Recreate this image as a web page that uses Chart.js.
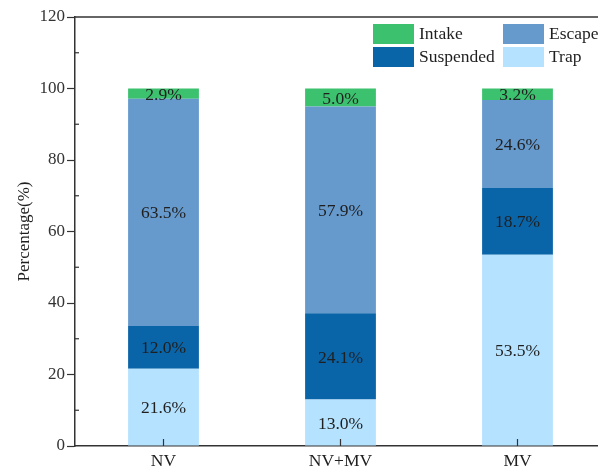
<!DOCTYPE html>
<html>
<head>
<meta charset="utf-8">
<script src="https://cdn.jsdelivr.net/npm/chart.js@4.4.1/dist/chart.umd.min.js"></script>
<style>
html,body{margin:0;padding:0;background:#fff;overflow:hidden;}
#wrap{width:610px;height:470px;}
</style>
</head>
<body>
<div id="wrap"><canvas id="c" width="610" height="470"></canvas></div>
<script>
const categories = ['NV', 'NV+MV', 'MV'];
const trap = [21.6, 13.0, 53.5];
const suspended = [12.0, 24.1, 18.7];
const escape = [63.5, 57.9, 24.6];
const intake = [2.9, 5.0, 3.2];
const yTicks = [0, 20, 40, 60, 80, 100, 120];

const FONT = "'Liberation Serif', 'Times New Roman', serif";
const colors = {Intake:'#3CC16F', Escape:'#6699CC', Suspended:'#0A64A8', Trap:'#B5E2FF'};

const labelPlugin = {
  id:'segLabels',
  afterDatasetsDraw(chart){
    const ctx = chart.ctx;
    ctx.save();
    ctx.font = '17.5px ' + FONT;
    ctx.fillStyle = '#1f1f1f';
    ctx.textAlign = 'center';
    ctx.textBaseline = 'middle';
    chart.data.datasets.forEach((ds, di) => {
      const meta = chart.getDatasetMeta(di);
      meta.data.forEach((bar, i) => {
        const v = ds.data[i];
        const y = (bar.y + bar.base) / 2;
        ctx.fillText(v.toFixed(1) + '%', bar.x, y + 1.5);
      });
    });
    ctx.restore();
  }
};

const framePlugin = {
  id:'frame',
  afterDraw(chart){
    const ctx = chart.ctx;
    const a = chart.chartArea;
    const ys = chart.scales.y, xs = chart.scales.x;
    ctx.save();
    ctx.strokeStyle = '#333';
    ctx.lineWidth = 1.5;
    ctx.beginPath();
    ctx.moveTo(a.left, a.top);
    ctx.lineTo(a.right, a.top);
    ctx.stroke();
    ctx.lineWidth = 1.2;
    // minor ticks inward on y
    for (let v = 10; v < 120; v += 20) {
      const y = ys.getPixelForValue(v);
      ctx.beginPath();
      ctx.moveTo(a.left, y);
      ctx.lineTo(a.left + 4, y);
      ctx.stroke();
    }
    // x ticks inward
    categories.forEach((c, i) => {
      const x = xs.getPixelForValue(i);
      ctx.beginPath();
      ctx.moveTo(x, a.bottom);
      ctx.lineTo(x, a.bottom - 7);
      ctx.stroke();
    });
    ctx.restore();
  }
};

const legendPlugin = {
  id:'customLegend',
  afterDraw(chart){
    const ctx = chart.ctx;
    const order = ['Intake', 'Escape', 'Suspended', 'Trap'];
    const pos = [[373, 24], [503, 24], [373, 47], [503, 47]];
    ctx.save();
    ctx.font = '17.5px ' + FONT;
    ctx.textBaseline = 'middle';
    ctx.textAlign = 'left';
    order.forEach((name, k) => {
      const ds = chart.data.datasets.find(d => d.label === name);
      const [x, y] = pos[k];
      ctx.fillStyle = ds.backgroundColor;
      ctx.fillRect(x, y, 41, 20);
      ctx.fillStyle = '#1f1f1f';
      ctx.fillText(name, x + 46, y + 10);
    });
    ctx.restore();
  }
};

new Chart(document.getElementById('c'), {
  type: 'bar',
  data: {
    labels: categories,
    datasets: [
      {label:'Trap', data: trap, backgroundColor: colors.Trap},
      {label:'Suspended', data: suspended, backgroundColor: colors.Suspended},
      {label:'Escape', data: escape, backgroundColor: colors.Escape},
      {label:'Intake', data: intake, backgroundColor: colors.Intake}
    ]
  },
  options: {
    responsive: false,
    animation: false,
    devicePixelRatio: 1,
    layout: {padding: {top: 17, right: 4, left: 0, bottom: 0}},
    datasets: {bar: {barPercentage: 0.4, categoryPercentage: 1, borderWidth: 0}},
    plugins: {legend: {display: false}, tooltip: {enabled: false}},
    scales: {
      x: {
        stacked: true,
        grid: {display: false, drawTicks: false, tickLength: 0},
        border: {display: true, color: '#333', width: 1.5},
        ticks: {font: {family: FONT, size: 17.5}, color: '#1f1f1f', padding: 5},
        afterFit(s){ s.height = 24; }
      },
      y: {
        stacked: true,
        min: 0, max: 120,
        afterBuildTicks(s){ s.ticks = yTicks.map(v => ({value: v})); },
        grid: {drawOnChartArea: false, drawTicks: true, tickLength: 8, tickColor: '#333', tickWidth: 1.2},
        border: {display: true, color: '#333', width: 1.5},
        ticks: {font: {family: FONT, size: 17}, color: '#333', padding: 2},
        title: {display: true, text: 'Percentage(%)', font: {family: FONT, size: 17}, color: '#1f1f1f', padding: {top: 14, bottom: 0}},
        afterFit(s){ s.width = 75; }
      }
    }
  },
  plugins: [labelPlugin, framePlugin, legendPlugin]
});
</script>
</body>
</html>
